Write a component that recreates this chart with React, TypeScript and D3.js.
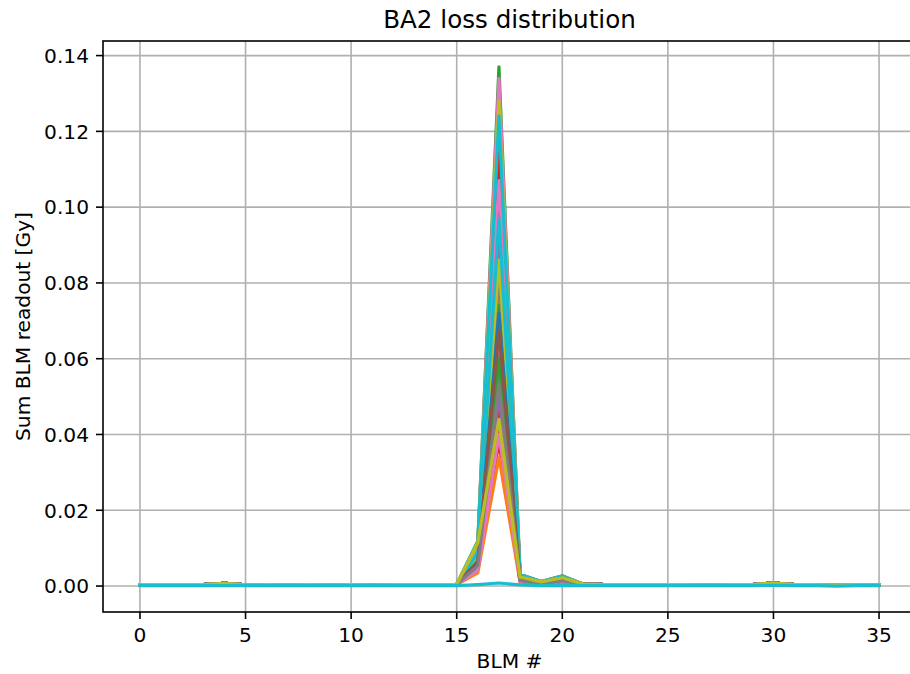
import React from "react";
import * as d3 from "d3";

const blmIndex = [0,1,2,3,4,5,6,7,8,9,10,11,12,13,14,15,16,17,18,19,20,21,22,23,24,25,26,27,28,29,30,31,32,33,34,35];
const xTicks = [0,5,10,15,20,25,30,35];
const yTicks = [0,0.02,0.04,0.06,0.08,0.1,0.12,0.14];

// typical readout of a run away from the loss spike
const baseProfile = [0.0004,0.0004,0.0004,0.0004,0.0007,0.0003,0.0004,0.0003,0.0004,0.0003,0.0004,0.0003,0.0004,0.0004,0.0004,0.0004,0.0004,0.0004,0.0004,0.0004,0.0004,0.0005,0.0004,0.0004,0.0004,0.0004,0.0004,0.0003,0.0004,0.0004,0.0008,0.0004,0.0004,0.0003,0.0004,0.0003];

// per-run readouts around the spike (BLM 16..20)
const peakAt16 = [0.0060,0.0075,0.0085,0.0045,0.0095,0.0055,0.0080,0.0090,0.0070,0.0105,
  0.0078,0.0062,0.0110,0.0050,0.0072,0.0092,0.0068,0.0058,0.0088,0.0064,
  0.0084,0.0070,0.0069,0.0104,0.0082,0.0090,0.0098,0.0076,0.0080,0.0089,
  0.0066,0.0061,0.0118,0.0056,0.0060,0.0058,0.0115,0.0055,0.0112,0.0119,
  0.0052,0.0035,0.0057,0.0046,0.0049,0.0062,0.0041,0.0054,0.0115];
const peakAt17 = [0.062,0.081,0.093,0.038,0.105,0.058,0.088,0.099,0.076,0.112,
  0.084,0.066,0.118,0.042,0.079,0.102,0.073,0.061,0.095,0.069,
  0.091,0.078,0.074,0.115,0.089,0.101,0.107,0.082,0.086,0.097,
  0.072,0.065,0.137,0.056,0.061,0.059,0.134,0.057,0.128,0.124,
  0.0517,0.034,0.060,0.047,0.050,0.0675,0.040,0.0535,0.044];
const peakAt18 = [0.0018,0.0022,0.0026,0.0014,0.0024,0.0016,0.0021,0.0027,0.0019,0.0029,
  0.0020,0.0017,0.0030,0.0013,0.0019,0.0025,0.0018,0.0015,0.0023,0.0017,
  0.0022,0.0019,0.0018,0.0028,0.0022,0.0024,0.0026,0.0020,0.0022,0.0024,
  0.0018,0.0017,0.0031,0.0016,0.0017,0.0016,0.0030,0.0016,0.0029,0.0030,
  0.0014,0.0010,0.0016,0.0013,0.0014,0.0018,0.0012,0.0015,0.0024];
const peakAt19 = [0.0006,0.0007,0.0008,0.0005,0.0007,0.0005,0.0006,0.0008,0.0006,0.0010,
  0.0006,0.0005,0.0011,0.0004,0.0006,0.0007,0.0006,0.0005,0.0007,0.0005,
  0.0007,0.0006,0.0006,0.0009,0.0007,0.0008,0.0008,0.0006,0.0007,0.0007,
  0.0006,0.0005,0.0012,0.0005,0.0005,0.0005,0.0012,0.0005,0.0010,0.0012,
  0.0005,0.0004,0.0005,0.0004,0.0005,0.0006,0.0004,0.0005,0.0011];
const peakAt20 = [0.0016,0.0019,0.0022,0.0014,0.0021,0.0015,0.0019,0.0023,0.0017,0.0025,
  0.0018,0.0016,0.0026,0.0013,0.0017,0.0022,0.0016,0.0015,0.0020,0.0016,
  0.0020,0.0018,0.0017,0.0024,0.0020,0.0022,0.0023,0.0018,0.0019,0.0021,
  0.0017,0.0016,0.0027,0.0015,0.0016,0.0015,0.0026,0.0015,0.0025,0.0026,
  0.0013,0.0011,0.0015,0.0012,0.0013,0.0016,0.0012,0.0014,0.0022];

// last run with almost no losses
const quietRun = [0.0001,0.0001,0.0001,0.0001,0.0001,0.0001,0.0001,0.0001,0.0001,0.0001,0.0001,0.0001,0.0001,0.0001,0.0001,0.0001,0.0004,0.0008,0.0003,0.0001,0.0002,0.0001,0.0001,0.0001,0.0001,0.0001,0.0001,0.0001,0.0001,0.0001,0.0002,0.0001,0.0001,0.0000,0.0001,0.0001];

const palette = ["#1f77b4","#ff7f0e","#2ca02c","#d62728","#9467bd","#8c564b","#e377c2","#7f7f7f","#bcbd22","#17becf"];

function buildRuns(): number[][] {
  const runs = peakAt17.map((_, i) =>
    baseProfile.map((v, x) => {
      if (x === 16) return peakAt16[i];
      if (x === 17) return peakAt17[i];
      if (x === 18) return peakAt18[i];
      if (x === 19) return peakAt19[i];
      if (x === 20) return peakAt20[i];
      return v;
    })
  );
  runs.push(quietRun);
  return runs;
}

const W = 910, H = 674;
const L = 103, R = 916, T = 41, B = 612;
const FONT = "DejaVu Sans, Liberation Sans, sans-serif";
const FS = 20.2;

export default function App() {
  const runs = buildRuns();
  const all = runs.flat();
  const yMin = d3.min(all) as number, yMax = d3.max(all) as number;
  const yPad = (yMax - yMin) * 0.05;
  const xMin = d3.min(blmIndex) as number, xMax = d3.max(blmIndex) as number;
  const xPad = (xMax - xMin) * 0.05;
  const x = d3.scaleLinear().domain([xMin - xPad, xMax + xPad]).range([L, R]);
  const y = d3.scaleLinear().domain([yMin - yPad, yMax + yPad]).range([B, T]);
  const line = d3.line<number>().x((_, i) => x(blmIndex[i])).y((d) => y(d));
  const fmt = d3.format(".2f");
  const gridColor = "#b0b0b0";
  const sw = 1.6;

  return (
    <div style={{ position: "absolute", left: 0, top: 0 }}>
      <svg width={W} height={H} style={{ display: "block", background: "#fff" }}>
        <rect x={0} y={0} width={W} height={H} fill="#fff" />
        <defs>
          <clipPath id="plotclip">
            <rect x={L} y={T} width={R - L} height={B - T} />
          </clipPath>
        </defs>
        <g>
          {xTicks.map((t) => (
            <line key={"gx" + t} x1={x(t)} x2={x(t)} y1={T} y2={B} stroke={gridColor} strokeWidth={sw} />
          ))}
          {yTicks.map((t) => (
            <line key={"gy" + t} x1={L} x2={R} y1={y(t)} y2={y(t)} stroke={gridColor} strokeWidth={sw} />
          ))}
        </g>
        <g clipPath="url(#plotclip)">
          {runs.map((r, i) => (
            <path key={i} d={line(r) || ""} fill="none" stroke={palette[i % 10]} strokeWidth={3.2}
              strokeLinejoin="round" strokeLinecap="square" />
          ))}
        </g>
        <rect x={L} y={T} width={R - L} height={B - T} fill="none" stroke="#000" strokeWidth={sw} />
        {xTicks.map((t) => (
          <g key={"xt" + t}>
            <line x1={x(t)} x2={x(t)} y1={B} y2={B + 7} stroke="#000" strokeWidth={sw} />
            <text x={x(t)} y={642} textAnchor="middle" fontFamily={FONT} fontSize={FS} fill="#000">{t}</text>
          </g>
        ))}
        {yTicks.map((t) => (
          <g key={"yt" + t}>
            <line x1={L - 7} x2={L} y1={y(t)} y2={y(t)} stroke="#000" strokeWidth={sw} />
            <text x={L - 14} y={y(t)} dy="0.36em" textAnchor="end" fontFamily={FONT} fontSize={FS} fill="#000">{fmt(t)}</text>
          </g>
        ))}
        <text x={(L + R) / 2} y={668} textAnchor="middle" fontFamily={FONT} fontSize={FS} fill="#000">BLM #</text>
        <text transform={`translate(30,${(T + B) / 2}) rotate(-90)`} textAnchor="middle" fontFamily={FONT} fontSize={FS} fill="#000">Sum BLM readout [Gy]</text>
        <text x={(L + R) / 2} y={28} textAnchor="middle" fontFamily={FONT} fontSize={24.6} fill="#000">BA2 loss distribution</text>
      </svg>
    </div>
  );
}
